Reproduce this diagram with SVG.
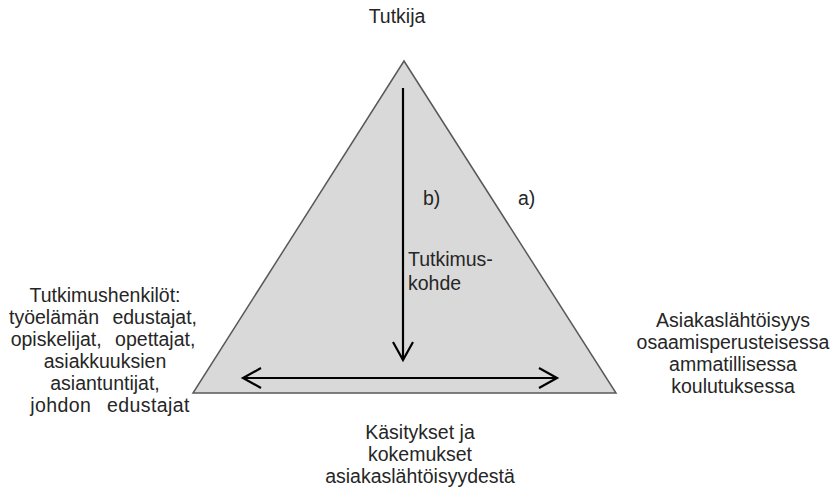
<svg xmlns="http://www.w3.org/2000/svg" width="839" height="490" viewBox="0 0 839 490">
<style>
text{font-family:"Liberation Sans",Arial,sans-serif;font-size:19.5px;fill:#262626}
.c{text-anchor:middle}
.tri{fill:#d9d9d9;stroke:#595959;stroke-width:1.5}
.arr{stroke:#000;stroke-width:2.2;fill:none}
</style>
<defs>
<marker id="ah" markerUnits="userSpaceOnUse" viewBox="-21 -12 24 24" markerWidth="24" markerHeight="24" refX="0" refY="0" orient="auto-start-reverse">
<path d="M-18,-10 L0,0 L-18,10" fill="none" stroke="#000" stroke-width="2.2"/>
</marker>
</defs>
<g id="triangle"><polygon class="tri" points="404,61 193,393 616,393"/></g>
<g id="connectors">
<line class="arr" x1="403" y1="88" x2="403" y2="360" marker-end="url(#ah)"/>
<line class="arr" x1="243" y1="378" x2="557" y2="378" marker-start="url(#ah)" marker-end="url(#ah)"/>
</g>
<g id="tutkija"><text class="c" x="397" y="23">Tutkija</text></g>
<g id="label-b"><text x="423" y="205">b)</text></g>
<g id="label-a"><text x="518" y="205">a)</text></g>
<g id="tutkimuskohde"><text x="408" y="266">Tutkimus-</text><text x="408" y="290">kohde</text></g>
<g id="tutkimushenkilot">
<text class="c" x="105" y="302">Tutkimushenkilöt:</text>
<text class="c" x="103" y="324" word-spacing="8">työelämän edustajat,</text>
<text class="c" x="103" y="346" word-spacing="8">opiskelijat, opettajat,</text>
<text class="c" x="105" y="368">asiakkuuksien</text>
<text class="c" x="105" y="390">asiantuntijat,</text>
<text class="c" x="110" y="412" word-spacing="10" letter-spacing="0.4">johdon edustajat</text>
</g>
<g id="asiakaslahtoisyys">
<text class="c" x="733" y="327">Asiakaslähtöisyys</text>
<text class="c" x="733" y="349">osaamisperusteisessa</text>
<text class="c" x="733" y="371">ammatillisessa</text>
<text class="c" x="733" y="393">koulutuksessa</text>
</g>
<g id="kasitykset">
<text class="c" x="420" y="439">Käsitykset ja</text>
<text class="c" x="420" y="461">kokemukset</text>
<text class="c" x="420" y="483">asiakaslähtöisyydestä</text>
</g>
</svg>
